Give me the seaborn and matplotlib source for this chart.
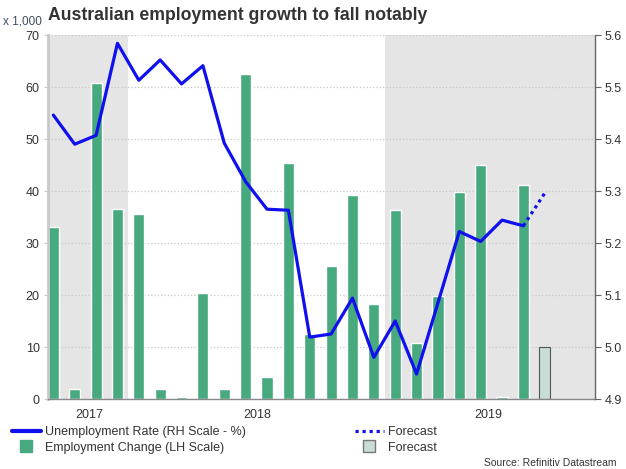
import numpy as np
import pandas as pd
import seaborn as sns
import matplotlib.pyplot as plt
from matplotlib.lines import Line2D
from matplotlib.ticker import FormatStrFormatter

# monthly data, Sep 2017 - Aug 2019 (last month = forecast)
months = ['Sep17', 'Oct17', 'Nov17', 'Dec17',
          'Jan18', 'Feb18', 'Mar18', 'Apr18', 'May18', 'Jun18',
          'Jul18', 'Aug18', 'Sep18', 'Oct18', 'Nov18', 'Dec18',
          'Jan19', 'Feb19', 'Mar19', 'Apr19', 'May19', 'Jun19',
          'Jul19', 'Aug19']
emp_change = [33.1, 1.9, 60.8, 36.5, 35.6, 1.9, 0.3, 20.4, 1.9, 62.5,
              4.2, 45.4, 12.5, 25.6, 39.2, 18.3, 36.3, 10.8, 19.8, 39.8,
              45.0, 0.4, 41.2, 10.0]
kind = ['Actual'] * 23 + ['Forecast']
unemp_rate = [5.446, 5.390, 5.407, 5.584, 5.513, 5.552, 5.506, 5.541,
              5.392, 5.318, 5.265, 5.263, 5.019, 5.025, 5.094, 4.980,
              5.050, 4.948, 5.085, 5.222, 5.203, 5.244, 5.233]
unemp_forecast = [5.233, 5.296]
year_labels = ['2017', '2018', '2019']

green = '#47a97e'
blue = '#1010ee'
fc_face = '#c8ddd3'
txt = '#333333'

df = pd.DataFrame({'month': months, 'change': emp_change, 'kind': kind})

sns.set_style('white')
plt.rcParams['font.family'] = ['Liberation Sans', 'DejaVu Sans']

fig = plt.figure(figsize=(6.26, 4.69), dpi=100)
ax = fig.add_axes([48 / 626, 1 - 399 / 469, 547 / 626, 364 / 469])

# shaded years
ax.axvspan(-0.25, 3.5, color='#e5e5e5', zorder=0, lw=0)
ax.axvspan(15.5, 25.35, color='#e5e5e5', zorder=0, lw=0)

sns.barplot(data=df, x='month', y='change', hue='kind', order=months,
            palette={'Actual': green, 'Forecast': fc_face}, dodge=False,
            width=0.52, saturation=1, legend=False, ax=ax)
for p in ax.patches:
    if abs(p.get_x() + p.get_width() / 2 - 23) < 0.01:
        p.set_edgecolor('#555555')
        p.set_linewidth(0.8)

ax.set_xlim(-0.25, 25.35)
ax.set_ylim(0, 70)
ax.set_yticks(range(0, 71, 10))
ax.grid(axis='y', color='#c8c8c8', linestyle=':', linewidth=0.9)
ax.set_axisbelow(True)
ax.set_xlabel('')
ax.set_ylabel('')

ax.set_xticks([3.5, 15.5], labels=['', ''])
ax.set_xticks([1.7, 9.53, 20.34], labels=year_labels, minor=True)
ax.tick_params(axis='x', which='major', length=4, color='#999999', width=1)
ax.tick_params(axis='x', which='minor', length=0, pad=7, labelsize=9, labelcolor=txt)
ax.tick_params(axis='y', length=3, color='#c8c8c8', labelsize=9, labelcolor=txt, pad=3)

for s in ['top', 'right']:
    ax.spines[s].set_visible(False)
ax.spines['left'].set_color('#c8c8c8')
ax.spines['left'].set_linewidth(2)
ax.spines['bottom'].set_color('#888888')
ax.spines['bottom'].set_linewidth(1)

ax2 = ax.twinx()
sns.lineplot(x=np.arange(len(unemp_rate)), y=unemp_rate, color=blue,
             linewidth=2.3, ax=ax2)
sns.lineplot(x=[22, 23], y=unemp_forecast, color=blue, linewidth=2.3,
             linestyle=(0, (1, 1.2)), ax=ax2)
ax2.set_ylim(4.9, 5.6)
ax2.set_yticks(np.arange(4.9, 5.61, 0.1))
ax2.yaxis.set_major_formatter(FormatStrFormatter('%.1f'))
ax2.tick_params(axis='y', length=4, color='#666666', labelsize=9, labelcolor=txt, pad=3)
for s in ['top', 'left', 'bottom']:
    ax2.spines[s].set_visible(False)
ax2.spines['right'].set_color('#666666')
ax2.spines['right'].set_linewidth(1)
ax2.set_xlim(-0.25, 25.35)

fig.text(48 / 626, 1 - 15 / 469, 'Australian employment growth to fall notably',
         fontsize=12.7, fontweight='bold', color=txt, va='center', ha='left')
fig.text(3 / 626, 1 - 22 / 469, 'x 1,000', fontsize=8.5, color='#3c4e5e',
         va='center', ha='left')
fig.text(617 / 626, 1 - 463 / 469, 'Source: Refinitiv Datastream',
         fontsize=7.5, color=txt, va='center', ha='right')

h1 = [Line2D([], [], color=blue, lw=3),
      Line2D([], [], marker='s', color=green, ls='none', markersize=8)]
h2 = [Line2D([], [], color=blue, lw=2.3, ls=(0, (1, 1.2))),
      Line2D([], [], marker='s', markerfacecolor=fc_face, markeredgecolor='#777777',
             ls='none', markersize=8)]
leg_kw = dict(loc='upper left', frameon=False, fontsize=9, handlelength=2.3,
              handletextpad=0.35, labelspacing=0.3, borderpad=0,
              borderaxespad=0, labelcolor=txt)
fig.legend(h1, ['Unemployment Rate (RH Scale - %)', 'Employment Change (LH Scale)'],
           bbox_to_anchor=(12 / 626, 1 - 426 / 469), **leg_kw)
fig.legend(h2, ['Forecast', 'Forecast'],
           bbox_to_anchor=(355 / 626, 1 - 426 / 469), **leg_kw)

fig.savefig('out.png', dpi=100)
